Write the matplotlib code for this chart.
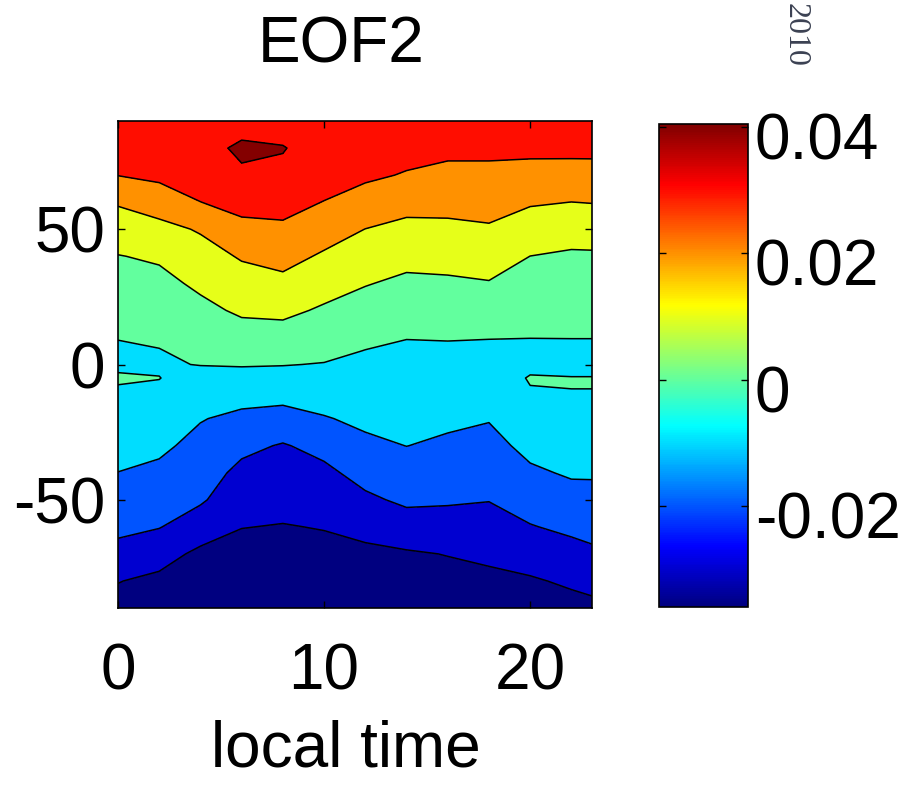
import numpy as np
import matplotlib
matplotlib.use("Agg")
import matplotlib.pyplot as plt
from matplotlib import colors as mcolors
from matplotlib.transforms import ScaledTranslation

plt.rcParams['font.family'] = ['Liberation Sans', 'DejaVu Sans']
plt.rcParams['axes.unicode_minus'] = False

local_time = [0, 2, 4, 6, 8, 10, 12, 14, 16, 18, 20, 22, 23]
latitude = [-90, -80, -70, -60, -50, -40, -30, -20, -10, -5, 0, 5, 10,
            20, 30, 40, 50, 60, 70, 80, 90]

# EOF2 loadings (x 1e-3), one list per local-time column, south -> north
eof2_by_hour = [
    [-33, -29.7, -23, -17.8, -14, -10.1, -6.9, -3.7, -0.5, 0.5, -0.75, -1.2, 0.3, 3.4, 6.6, 9.7, 15, 20.9, 30.2, 33, 35],
    [-34, -32, -26.4, -19.6, -15.8, -11.9, -8.2, -4.5, -0.8, 0.1, -0.6, -0.31, 1.25, 4.4, 7.5, 11.2, 17.1, 24.8, 32, 35, 36],
    [-35.5, -34, -32, -25, -18.8, -15.8, -12.7, -9.5, -4.6, -2.2, 0.19, 2.1, 4.0, 7.7, 11.7, 16.1, 20.9, 29.9, 35.5, 39.0, 38],
    [-36, -35, -33, -29.8, -26, -22.3, -17.8, -12.2, -6, -2.7, 0.56, 3.3, 6.1, 11.4, 16, 20.9, 27.2, 33.4, 39.6, 40.5, 38.8],
    [-36, -35, -33, -30.4, -27.2, -23.9, -20.7, -13.6, -6.3, -3, 0.3, 3.2, 6.2, 12.1, 17.7, 23.1, 28.2, 33.6, 39.2, 40.2, 38.2],
    [-35.5, -34.5, -32.5, -29.6, -25.8, -22.1, -17.1, -10.6, -5.5, -3, -0.35, 2.0, 4.2, 8.8, 13.8, 18.8, 24.2, 29.7, 35, 38.2, 37.5],
    [-34.5, -34, -32, -27.2, -21.7, -16.7, -11.9, -8.1, -5, -3.4, -1.7, -0.2, 2.0, 6.1, 10.5, 15.2, 19.9, 26.3, 31.5, 34.5, 35.5],
    [-34.5, -33.5, -31, -24.3, -18.3, -14, -9.9, -7.4, -4.9, -3.6, -2.4, -1.1, 0.2, 4.2, 8.2, 12.7, 17.6, 23.1, 29.4, 33, 35],
    [-34, -33, -29.7, -24, -18.9, -15.2, -11.5, -8.3, -5.4, -4, -2.6, -1.1, 0.4, 4.5, 8.6, 13.2, 18, 22.9, 27.8, 32, 34],
    [-33.5, -32, -28.3, -23.9, -19.7, -16.3, -12.9, -9.5, -6.3, -4.7, -3.1, -1.45, 0.23, 4.9, 9.5, 14.3, 19, 23.5, 27.8, 32, 34],
    [-33, -31, -25.8, -20.5, -15.9, -11.4, -7.5, -4, -0.5, 0.6, -2, -1.5, 0.1, 3.4, 6.7, 9.95, 15.4, 20.9, 27, 32, 34],
    [-33, -28.6, -23.2, -18.1, -13.2, -9, -6, -3, -0.05, 0.2, -1.8, -1, 0.1, 3, 6, 8.8, 13.6, 19.95, 26.9, 32, 34],
    [-32, -27.5, -21.7, -17, -12.9, -9, -6, -3, -0.05, 0.2, -1.8, -1, 0.1, 3.1, 6.1, 8.9, 13.8, 20.3, 27, 32, 34],
]

levels = [-0.03, -0.02, -0.01, 0.0, 0.01, 0.02, 0.03, 0.04]
clim = (-0.036, 0.0405)
cbar_ticks = [-0.02, 0, 0.02, 0.04]
cbar_labels = ['-0.02', '0', '0.02', '0.04']

Z = np.array(eof2_by_hour).T * 1e-3

# matlab flavoured jet
jet_m = mcolors.LinearSegmentedColormap('jet_m', {
    'red':   [(0, 0, 0), (0.375, 0, 0), (0.625, 1, 1), (0.875, 1, 1), (1, 0.5, 0.5)],
    'green': [(0, 0, 0), (0.125, 0, 0), (0.375, 1, 1), (0.625, 1, 1), (0.875, 0, 0), (1, 0, 0)],
    'blue':  [(0, 0.5, 0.5), (0.125, 1, 1), (0.375, 1, 1), (0.625, 0, 0), (1, 0, 0)],
}, N=256)

norm = mcolors.Normalize(vmin=clim[0], vmax=clim[1])
fill_levels = [min(Z.min(), clim[0]) - 1e-6] + levels + [Z.max() + 1e-6]
# each band takes the colour of its lower contour level
lower = [clim[0]] + levels
band_colors = [jet_m(norm(v)) for v in lower]

W, H = 906, 785
fig = plt.figure(figsize=(W / 100, H / 100), dpi=100)
ax = fig.add_axes([118 / W, 1 - 608 / H, 474 / W, 487 / H])

ax.contourf(local_time, latitude, Z, levels=fill_levels, colors=band_colors)
ax.contour(local_time, latitude, Z, levels=levels, colors='k',
           linewidths=1.1, linestyles='solid')

fs = 46
ax.set_xlim(0, 23)
ax.set_ylim(-90, 90)
ax.set_xticks([0, 10, 20])
ax.set_yticks([-50, 0, 50])
ax.tick_params(direction='in', length=5, width=1, labelsize=fs,
               top=True, right=True)
ax.tick_params(axis='x', pad=25)
ax.tick_params(axis='y', pad=9)
for s in ax.spines.values():
    s.set_linewidth(1.2)
ax.set_title('EOF2', fontsize=fs, pad=42, x=0.47)
ax.set_xlabel('local time', fontsize=fs, labelpad=12, x=0.48)

cax = fig.add_axes([659 / W, 1 - 607 / H, 89 / W, 483 / H])
sm = plt.cm.ScalarMappable(norm=norm, cmap=jet_m)
cb = fig.colorbar(sm, cax=cax, ticks=cbar_ticks)
cb.ax.set_yticklabels(cbar_labels)
cb.outline.set_linewidth(1.2)
cax.tick_params(direction='in', left=True, right=True, length=5, width=1,
                labelsize=fs, pad=5)
# labels sit a little below their ticks, as in the original
shift = ScaledTranslation(0, -9 / 100, fig.dpi_scale_trans)
for lab in cax.get_yticklabels():
    lab.set_transform(lab.get_transform() + shift)

fig.text(795 / W, 1 - 3 / H, '2010', rotation=-90, ha='center', va='top',
         fontsize=23, family='Liberation Serif', color='#3b4152')

fig.savefig('out.png', dpi=100)
